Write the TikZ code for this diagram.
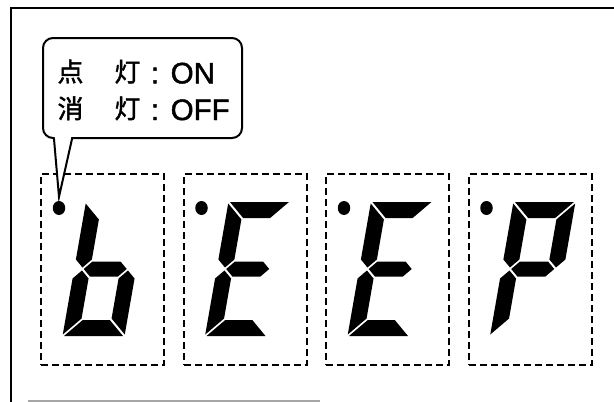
\documentclass[tikz,border=0pt]{standalone}
\usepackage{fontspec}
\setmainfont{Liberation Sans}[FakeBold=1.6]
\newfontfamily\cjk{Noto Sans CJK JP}[FakeBold=1.6]
\usetikzlibrary{shapes.geometric,calc}
% seven-segment shapes in upright digit coordinates (W=62, H=134, t=16)
\newcommand\SegA{\fill (1.5,134) -- (60.5,134) -- (44.5,118) -- (17.5,118) -- cycle;}
\newcommand\SegB{\fill (62,132.5) -- (46,116.5) -- (46,76.5) -- (54,68.5) -- (62,76.5) -- cycle;}
\newcommand\SegC{\fill (62,1.5) -- (46,17.5) -- (46,57.5) -- (54,65.5) -- (62,57.5) -- cycle;}
\newcommand\SegD{\fill (1.5,0) -- (60.5,0) -- (44.5,16) -- (17.5,16) -- cycle;}
\newcommand\SegE{\fill (0,1.5) -- (16,17.5) -- (16,57.5) -- (8,65.5) -- (0,57.5) -- cycle;}
\newcommand\SegF{\fill (0,132.5) -- (16,116.5) -- (16,76.5) -- (8,68.5) -- (0,76.5) -- cycle;}
\newcommand\SegG{\fill (9.5,67) -- (17,74.5) -- (45,74.5) -- (52.5,67) -- (45,59.5) -- (17,59.5) -- cycle;}
\tikzset{
  dbox/.style={draw, dash pattern=on 7pt off 4pt, line width=1.8pt,
    minimum width=123pt, minimum height=191pt, inner sep=0pt},
  ldot/.style={ellipse, fill=black, minimum width=12.5pt, minimum height=14pt, inner sep=0pt},
  kj/.style={font=\cjk\fontsize{26}{30}\selectfont, inner sep=0pt},
  lt/.style={font=\fontsize{29.5}{34}\selectfont, inner sep=0pt},
  bubble/.style={draw, rounded corners=10pt, line width=2pt,
    minimum width=199pt, minimum height=100pt, inner sep=0pt},
  digit/.style={shift={#1}, yscale=-1, xslant=-0.175}
}
\begin{document}
\begin{tikzpicture}[x=1pt,y=-1pt]
\useasboundingbox (0,0) rectangle (614,402);
% frame
\draw[line width=2pt] (11,402) -- (11,8) -- (614,8);
\draw[black!35, line width=2pt] (28,400.5) -- (320,400.5);
% dashed digit boxes
\node[dbox] (box1) at (102.75,269.5) {};
\node[dbox] (box2) at (245.25,269.5) {};
\node[dbox] (box3) at (387.75,269.5) {};
\node[dbox] (box4) at (530.25,269.5) {};
% dots
\node[ldot] (dot1) at (59,208) {};
\node[ldot] (dot2) at (201.5,208) {};
\node[ldot] (dot3) at (344,208) {};
\node[ldot] (dot4) at (486.5,208) {};
% digits b E E P
\begin{scope}[digit={(62.5,336)}] \SegF \SegE \SegD \SegC \SegG \end{scope}
\begin{scope}[digit={(205,336)}] \SegA \SegF \SegG \SegE \SegD \end{scope}
\begin{scope}[digit={(347.5,336)}] \SegA \SegF \SegG \SegE \SegD \end{scope}
\begin{scope}[digit={(490,336)}] \SegA \SegF \SegB \SegG \SegE \end{scope}
% speech bubble
\node[bubble] (bub) at (142.5,88) {};
\coordinate (tl) at ($(bub.south west)+(12,0)$);
\coordinate (tr) at ($(bub.south west)+(30,0)$);
\coordinate (tip) at ($(dot1.north)+(0,-4)$);
\fill[white] ($(tl)+(0.8,-2)$) -- ($(tr)+(-0.8,-2)$) -- (tip) -- cycle;
\draw[line width=2pt, line join=miter] (tl) -- (tip) -- (tr);
% texts
\node[kj, anchor=base] (k1) at (70.5,81.5) {点};
\node[kj, anchor=base] (k2) at (127.5,81.5) {灯};
\node[lt, anchor=base] (c1) at (155,83.3) {:};
\node[lt, anchor=base west] (on) at (170.5,83.3) {ON};
\node[kj, anchor=base] (k3) at (70.5,118.2) {消};
\node[kj, anchor=base] (k4) at (127.5,118.2) {灯};
\node[lt, anchor=base] (c2) at (155,120) {:};
\node[lt, anchor=base west] (off) at (170.5,120) {OFF};
\end{tikzpicture}
\end{document}
